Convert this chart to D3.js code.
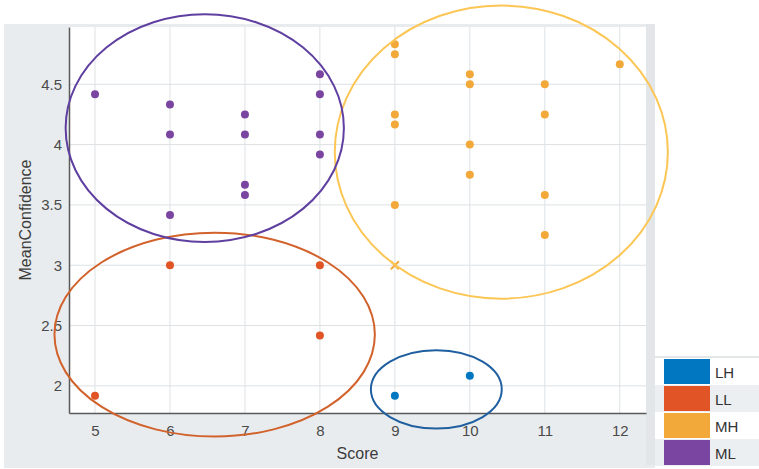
<!DOCTYPE html>
<html lang="en">
<head>
  <meta charset="UTF-8">
  <title>Score vs MeanConfidence</title>
  <style>
    body { margin: 0; background: #fff; }
    svg { display: block; font-family: "Liberation Sans", Arial, sans-serif; }
  </style>
</head>
<body>
  <svg id="chart" width="759" height="469"></svg>
  <script src="https://d3js.org/d3.v7.min.js"></script>
  <script>
    // groups and their colours
    const groups = ['LH', 'LL', 'MH', 'ML'];
    const dotColors = ['#0077c0', '#e05426', '#f2a93a', '#7a45a0'];
    const ringColors = ['#1f5fa0', '#d2622c', '#fcc655', '#5f3fa0'];

    // points per group: [score, meanConfidence]
    const lhPoints = [[9, 1.917], [10, 2.083]];
    const llPoints = [[5, 1.917], [6, 3.0], [8, 3.0], [8, 2.417]];
    const mhPoints = [
      [9, 4.833], [9, 4.75], [9, 4.25], [9, 4.167], [9, 3.5],
      [10, 4.583], [10, 4.5], [10, 4.0], [10, 3.75],
      [11, 4.5], [11, 4.25], [11, 3.583], [11, 3.25],
      [12, 4.667]
    ];
    const mlPoints = [
      [5, 4.417],
      [6, 4.333], [6, 4.083], [6, 3.417],
      [7, 4.25], [7, 4.083], [7, 3.667], [7, 3.583],
      [8, 4.583], [8, 4.417], [8, 4.083], [8, 3.917]
    ];
    const crossPoint = [9, 3.0]; // MH cross marker

    // cluster ellipses: [cx, cy, rx, ry] in data units
    const ellipses = [
      [9.553, 1.971, 0.873, 0.325],
      [6.596, 2.425, 2.137, 0.845],
      [10.42, 3.938, 2.222, 1.215],
      [6.464, 4.137, 1.856, 0.944]
    ];

    const xTicks = [5, 6, 7, 8, 9, 10, 11, 12];
    const yTicks = [2, 2.5, 3, 3.5, 4, 4.5];

    const svg = d3.select('#chart');
    const plot = { left: 69, right: 646, top: 27, bottom: 413 };

    const x = d3.scaleLinear().domain([4.653, 12.35]).range([plot.left, plot.right]);
    const y = d3.scaleLinear().domain([1.775, 4.975]).range([plot.bottom, plot.top]);

    // grey figure panel + white axes area
    svg.append('rect').attr('x', 4).attr('y', 24).attr('width', 651).attr('height', 444).attr('fill', '#e9ecee');
    svg.append('rect').attr('x', plot.left).attr('y', plot.top)
      .attr('width', plot.right - plot.left).attr('height', plot.bottom - plot.top).attr('fill', '#fff');
    svg.append('rect').attr('x', plot.right).attr('y', plot.top - 3).attr('width', 9).attr('height', 444 - 3)
      .attr('fill', '#e2e6e8');

    // grid
    svg.append('g').selectAll('line').data(xTicks).join('line')
      .attr('x1', d => x(d)).attr('x2', d => x(d))
      .attr('y1', plot.top).attr('y2', plot.bottom)
      .attr('stroke', '#dde1e4').attr('stroke-width', 1);
    svg.append('g').selectAll('line').data(yTicks).join('line')
      .attr('x1', plot.left).attr('x2', plot.right)
      .attr('y1', d => y(d)).attr('y2', d => y(d))
      .attr('stroke', '#dde1e4').attr('stroke-width', 1);

    // axes
    const xAxis = svg.append('g').attr('transform', `translate(0,${plot.bottom})`)
      .call(d3.axisBottom(x).tickValues(xTicks).tickSize(0).tickPadding(12).tickFormat(d3.format('d')));
    const yAxis = svg.append('g').attr('transform', `translate(${plot.left},0)`)
      .call(d3.axisLeft(y).tickValues(yTicks).tickSize(0).tickPadding(7).tickFormat(d => d));
    [xAxis, yAxis].forEach(a => {
      a.select('.domain').attr('stroke', '#5a5a5a').attr('stroke-width', 1.5);
      a.selectAll('.tick text').attr('font-size', 15).attr('fill', '#4a4a4a');
    });

    svg.append('text').attr('x', (plot.left + plot.right) / 2).attr('y', 459)
      .attr('text-anchor', 'middle').attr('font-size', 16).attr('fill', '#3c3c3c').text('Score');
    svg.append('text').attr('transform', `translate(31,${(plot.top + plot.bottom) / 2}) rotate(-90)`)
      .attr('text-anchor', 'middle').attr('font-size', 16).attr('fill', '#3c3c3c').text('MeanConfidence');

    // points
    const allPoints = [lhPoints, llPoints, mhPoints, mlPoints];
    allPoints.forEach((pts, i) => {
      svg.append('g').selectAll('circle').data(pts).join('circle')
        .attr('cx', d => x(d[0])).attr('cy', d => y(d[1])).attr('r', 4)
        .attr('fill', dotColors[i]);
    });

    // cross marker
    const cx0 = x(crossPoint[0]), cy0 = y(crossPoint[1]);
    svg.append('path')
      .attr('d', `M${cx0 - 4},${cy0 - 4}L${cx0 + 4},${cy0 + 4}M${cx0 - 4},${cy0 + 4}L${cx0 + 4},${cy0 - 4}`)
      .attr('stroke', dotColors[2]).attr('stroke-width', 2);

    // ellipses
    svg.append('g').selectAll('ellipse').data(ellipses).join('ellipse')
      .attr('cx', d => x(d[0])).attr('cy', d => y(d[1]))
      .attr('rx', d => x(d[0] + d[2]) - x(d[0]))
      .attr('ry', d => y(d[1] - d[3]) - y(d[1]))
      .attr('fill', 'none')
      .attr('stroke', (d, i) => ringColors[i]).attr('stroke-width', 2);

    // legend
    const leg = svg.append('g').attr('transform', 'translate(655,357)');
    leg.append('line').attr('x1', 0).attr('x2', 104).attr('y1', 0).attr('y2', 0).attr('stroke', '#c8cdd0');
    const rowH = 27;
    const rows = leg.selectAll('g.row').data(groups).join('g')
      .attr('class', 'row').attr('transform', (d, i) => `translate(0,${1 + i * rowH})`);
    rows.append('rect').attr('width', 104).attr('height', rowH)
      .attr('fill', (d, i) => i % 2 ? '#eceff1' : '#ffffff');
    rows.append('rect').attr('x', 9).attr('y', 1).attr('width', 46).attr('height', rowH - 2)
      .attr('fill', (d, i) => dotColors[i]);
    rows.append('text').attr('x', 60).attr('y', rowH / 2 + 6)
      .attr('font-size', 15).attr('fill', '#333').text(d => d);
  </script>
</body>
</html>
